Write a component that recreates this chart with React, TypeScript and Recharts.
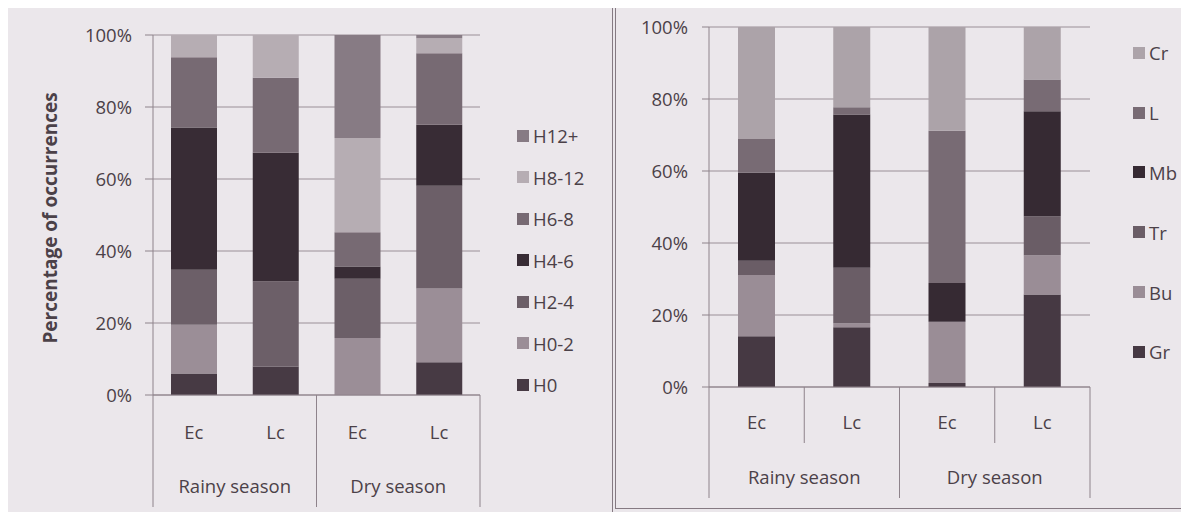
import React from 'react';
import { BarChart, Bar, XAxis, YAxis, CartesianGrid, Legend } from 'recharts';

// ---------- shared categories ----------
const categories = ['Ec', 'Lc', 'Ec', 'Lc'];
const seasons = ['Rainy season', 'Rainy season', 'Dry season', 'Dry season'];
const percentTicks = [0, 0.2, 0.4, 0.6, 0.8, 1];

// ---------- left chart: height classes ----------
const heightClasses = ['H0', 'H0-2', 'H2-4', 'H4-6', 'H6-8', 'H8-12', 'H12+'];
const hH0 = [6.0, 7.9, 0, 9.1];
const hH0_2 = [13.5, 0, 15.8, 20.5];
const hH2_4 = [15.3, 23.7, 16.5, 28.5];
const hH4_6 = [39.5, 35.7, 3.4, 17.0];
const hH6_8 = [19.5, 20.8, 9.5, 19.8];
const hH8_12 = [6.2, 11.9, 26.2, 4.2];
const hH12p = [0, 0, 28.6, 0.9];
const heightColors = ['#473a44', '#9b8e97', '#6c5f68', '#382c35', '#776a73', '#b6adb3', '#877b84'];

// ---------- right chart: feeding classes ----------
const feedClasses = ['Gr', 'Bu', 'Tr', 'Mb', 'L', 'Cr'];
const fGr = [14.1, 16.6, 1.1, 25.7];
const fBu = [17.0, 1.1, 17.0, 10.9];
const fTr = [4.0, 15.4, 0, 10.8];
const fMb = [24.4, 42.6, 10.8, 29.2];
const fL = [9.4, 2.0, 42.3, 8.8];
const fCr = [31.1, 22.3, 28.8, 14.6];
const feedColors = ['#463943', '#9a8d96', '#6a5d66', '#362a33', '#786b74', '#aca3a9'];

const heightSeries = [hH0, hH0_2, hH2_4, hH4_6, hH6_8, hH8_12, hH12p];
const feedSeries = [fGr, fBu, fTr, fMb, fL, fCr];

const buildRows = (keys: string[], series: number[][]) =>
  categories.map((c, i) => {
    const row: any = { cat: c, season: seasons[i] };
    keys.forEach((k, j) => {
      row[k] = series[j][i];
    });
    return row;
  });

const leftData = buildRows(heightClasses, heightSeries);
const rightData = buildRows(feedClasses, feedSeries);

// ---------- styling ----------
const FONT = '"Open Sans", "DejaVu Sans", sans-serif';
const FS = 18.5;
const TEXT = '#4b4148';
const LINE = '#8e838b';
const GRID = '#9a8f97';
const BG = '#ebe7eb';

// layout
const L_W = 612, L_H = 520, L_LEFT = 153, L_RIGHT = 132, L_TOP = 35, L_XH = 125;
const R_W = 577, R_H = 520, R_LEFT = 97, R_RIGHT = 99, R_TOP = 27, R_XH = 133;
const L_BAND = (L_W - L_LEFT - L_RIGHT) / categories.length;
const R_BAND = (R_W - R_LEFT - R_RIGHT) / categories.length;

const pct = (v: number) => `${Math.round(v * 100)}%`;

const LeftTick = (props: any) => {
  const { x, y, index, payload } = props;
  const half = L_BAND / 2;
  return (
    <g>
      <text x={x} y={y + 38} dy="0.35em" textAnchor="middle" fill={TEXT} fontSize={FS} fontFamily={FONT}>
        {payload.value}
      </text>
      {(index === 0 || index === 2) && (
        <>
          <line x1={x - half} y1={y} x2={x - half} y2={y + 112} stroke={LINE} strokeWidth={1} />
          <text x={x + half} y={y + 92} dy="0.35em" textAnchor="middle" fill={TEXT} fontSize={FS} fontFamily={FONT}>
            {seasons[index]}
          </text>
        </>
      )}
      {index === 3 && <line x1={x + half} y1={y} x2={x + half} y2={y + 112} stroke={LINE} strokeWidth={1} />}
    </g>
  );
};

const RightTick = (props: any) => {
  const { x, y, index, payload } = props;
  const half = R_BAND / 2;
  const full = index % 2 === 0;
  return (
    <g>
      <text x={x} y={y + 36} dy="0.35em" textAnchor="middle" fill={TEXT} fontSize={FS} fontFamily={FONT}>
        {payload.value}
      </text>
      <line x1={x - half} y1={y} x2={x - half} y2={y + (full ? 111 : 56)} stroke={LINE} strokeWidth={1} />
      {full && (
        <text x={x + half} y={y + 91} dy="0.35em" textAnchor="middle" fill={TEXT} fontSize={FS} fontFamily={FONT}>
          {seasons[index]}
        </text>
      )}
      {index === 3 && <line x1={x + half} y1={y} x2={x + half} y2={y + 111} stroke={LINE} strokeWidth={1} />}
    </g>
  );
};

const makeLegend = (keys: string[], colors: string[], itemH: number) => () => (
  <div style={{ fontFamily: FONT, fontSize: FS, color: TEXT }}>
    {keys
      .map((k, i) => ({ k, c: colors[i] }))
      .reverse()
      .map(({ k, c }) => (
        <div key={k} style={{ height: itemH, display: 'flex', alignItems: 'center' }}>
          <span style={{ display: 'inline-block', width: 12, height: 12, background: c, marginRight: 4 }} />
          <span>{k}</span>
        </div>
      ))}
  </div>
);

const LeftLegend = makeLegend(heightClasses, heightColors, 41.5);
const RightLegend = makeLegend(feedClasses, feedColors, 59.8);

export default function App() {
  return (
    <div
      style={{
        position: 'relative',
        width: 1189,
        height: 520,
        margin: -8,
        background: BG,
        overflow: 'hidden',
        fontFamily: FONT,
      }}
    >
      <div style={{ position: 'absolute', left: 6, top: 7, width: 605, height: 506, border: '1.5px solid #857a82' }} />
      <div style={{ position: 'absolute', left: 615, top: 3, width: 600, height: 504, border: '1.5px solid #857a82' }} />

      <div style={{ position: 'absolute', left: 0, top: 0 }}>
        <BarChart
          width={L_W}
          height={L_H}
          data={leftData}
          stackOffset="expand"
          margin={{ top: L_TOP, right: L_RIGHT, bottom: 0, left: 0 }}
        >
          <CartesianGrid vertical={false} stroke={GRID} strokeWidth={1} />
          <XAxis
            dataKey="cat"
            interval={0}
            height={L_XH}
            tickLine={false}
            tickSize={0}
            tickMargin={0}
            axisLine={{ stroke: LINE }}
            tick={LeftTick}
          />
          <YAxis
            width={L_LEFT}
            domain={[0, 1]}
            ticks={percentTicks}
            tickFormatter={pct}
            tickSize={8}
            tickMargin={13}
            axisLine={{ stroke: LINE }}
            tickLine={{ stroke: LINE }}
            tick={{ fill: TEXT, fontSize: FS, fontFamily: FONT }}
            label={(p: any) => (
              <text
                x={50}
                y={218}
                dy="0.35em"
                transform="rotate(-90 50 218)"
                textAnchor="middle"
                fill={TEXT}
                fontSize={19}
                fontWeight="bold"
                fontFamily={FONT}
              >
                Percentage of occurrences
              </text>
            )}
          />
          {heightClasses.map((k, i) => (
            <Bar key={k} dataKey={k} stackId="a" fill={heightColors[i]} barSize={46} isAnimationActive={false} />
          ))}
          <Legend
            layout="vertical"
            align="center"
            verticalAlign="middle"
            content={LeftLegend}
            wrapperStyle={{ left: 517, top: 115, width: 92, height: 300 }}
          />
        </BarChart>
      </div>

      <div style={{ position: 'absolute', left: 612, top: 0 }}>
        <BarChart
          width={R_W}
          height={R_H}
          data={rightData}
          stackOffset="expand"
          margin={{ top: R_TOP, right: R_RIGHT, bottom: 0, left: 0 }}
        >
          <CartesianGrid vertical={false} stroke={GRID} strokeWidth={1} />
          <XAxis
            dataKey="cat"
            interval={0}
            height={R_XH}
            tickLine={false}
            tickSize={0}
            tickMargin={0}
            axisLine={{ stroke: LINE }}
            tick={RightTick}
          />
          <YAxis
            width={R_LEFT}
            domain={[0, 1]}
            ticks={percentTicks}
            tickFormatter={pct}
            tickSize={7}
            tickMargin={14}
            axisLine={{ stroke: LINE }}
            tickLine={{ stroke: LINE }}
            tick={{ fill: TEXT, fontSize: FS, fontFamily: FONT }}
          />
          {feedClasses.map((k, i) => (
            <Bar key={k} dataKey={k} stackId="b" fill={feedColors[i]} barSize={37} isAnimationActive={false} />
          ))}
          <Legend
            layout="vertical"
            align="center"
            verticalAlign="middle"
            content={RightLegend}
            wrapperStyle={{ left: 521, top: 23, width: 60, height: 360 }}
          />
        </BarChart>
      </div>
    </div>
  );
}
